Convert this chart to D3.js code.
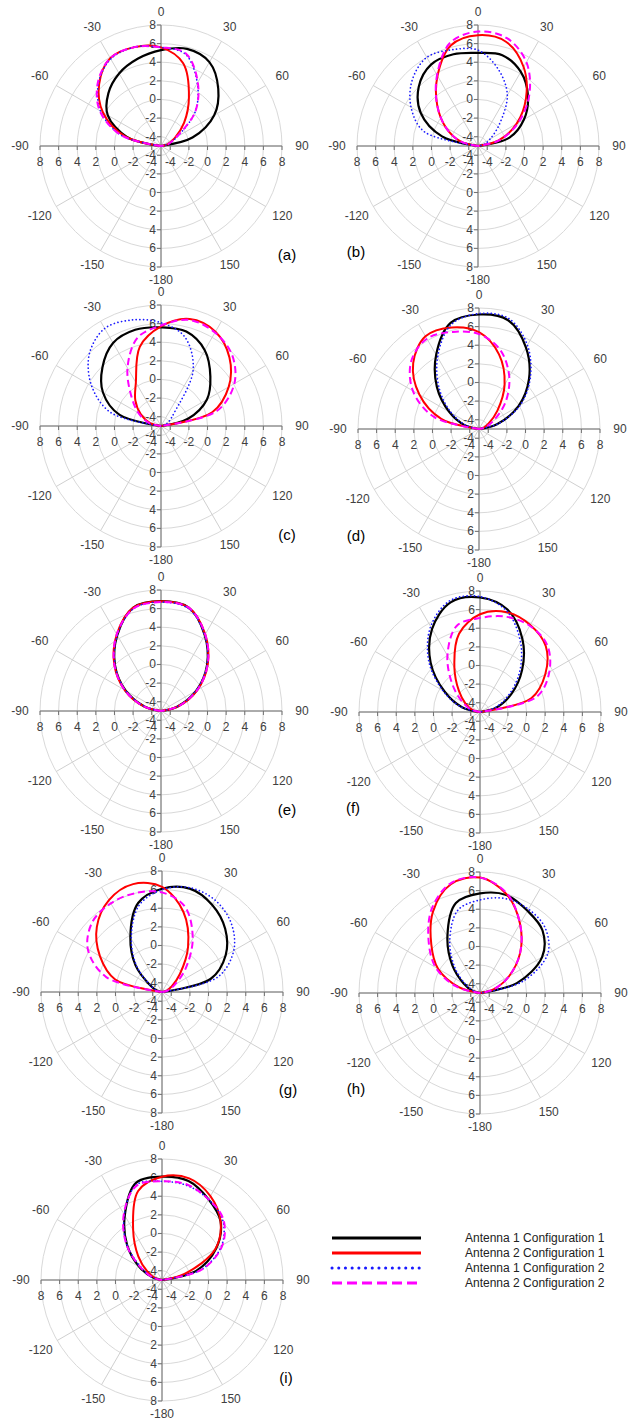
<!DOCTYPE html>
<html>
<head>
<meta charset="utf-8">
<script src="https://cdn.jsdelivr.net/npm/d3@7"></script>
<style>
  html, body { margin: 0; padding: 0; background: #fff; }
  svg { display: block; font-family: "Liberation Sans", Arial, sans-serif; }
</style>
</head>
<body>
<svg id="chart" width="636" height="1423"></svg>
<script>
// azimuth of each sample, degrees (0 = up, clockwise)
var angles = [-90, -75, -60, -45, -30, -15, 0, 15, 30, 45, 60, 75, 90];

var seriesNames = [
  "Antenna 1 Configuration 1",
  "Antenna 2 Configuration 1",
  "Antenna 1 Configuration 2",
  "Antenna 2 Configuration 2"
];

var panelLabels = ["(a)", "(b)", "(c)", "(d)", "(e)", "(f)", "(g)", "(h)", "(i)"];

var radialTicks = [-4, -2, 0, 2, 4, 6, 8];
var angleTicks = [0, 30, 60, 90, 120, 150, 180, -150, -120, -90, -60, -30];
var angleTickText = ["0", "30", "60", "90", "120", "150", "-180", "-150", "-120", "-90", "-60", "-30"];

// gain per panel: [ant1 cfg1, ant2 cfg1, ant1 cfg2, ant2 cfg2]
var gainA = [
  [-5, -1.2, 1.6, 3.0, 4.0, 4.7, 5.3, 5.8, 5.4, 3.7, 1.6, -1.5, -5],
  [-5, -1.0, 2.2, 4.4, 5.9, 6.0, 5.6, 4.2, 1.0, -1.5, -3.3, -4.3, -5],
  [-5, -0.6, 2.5, 4.5, 5.8, 6.0, 5.6, 5.2, 2.8, 0.2, -3.0, -4.2, -5],
  [-5, -0.6, 2.6, 4.6, 5.9, 6.0, 5.6, 5.3, 2.9, 0.2, -3.1, -4.2, -5]
];
var gainB = [
  [-5, -1.0, 2.1, 4.0, 5.1, 5.2, 5.0, 5.1, 4.2, 2.6, 0.7, -1.5, -5],
  [-5, -3.0, -1.0, 1.2, 3.7, 6.2, 6.9, 6.6, 4.8, 2.3, -0.2, -2.7, -5],
  [-5, 1.0, 3.3, 5.0, 6.0, 5.7, 5.3, 3.5, 1.3, -1.8, -3.5, -4.3, -5],
  [-5, -3.0, -1.0, 1.2, 3.8, 6.5, 7.3, 7.0, 5.4, 2.8, 0.0, -2.6, -5]
];
var gainC = [
  [-5, -0.4, 2.2, 3.9, 5.3, 5.7, 5.6, 5.5, 4.4, 2.5, 0.7, -2.0, -5],
  [-5, -3.8, -2.5, -1.1, 0.4, 3.8, 5.7, 6.9, 6.7, 5.4, 3.4, 0.7, -5],
  [-5, 0.6, 3.6, 5.9, 7.1, 6.8, 6.1, 4.9, 1.9, -3.0, -4.0, -4.5, -5],
  [-5, -3.6, -2.2, -0.5, 2.2, 4.8, 5.8, 6.8, 6.6, 5.8, 4.1, 1.2, -5]
];
var gainD = [
  [-5, -3.4, -1.3, 1.4, 4.2, 6.8, 7.3, 7.1, 5.1, 2.6, -0.1, -3.0, -5],
  [-5, -0.8, 2.4, 5.0, 6.5, 6.3, 5.4, 3.3, 0.5, -2.2, -3.8, -4.5, -5],
  [-5, -3.6, -1.6, 1.0, 3.9, 6.6, 7.4, 7.3, 5.4, 2.8, 0.1, -2.9, -5],
  [-5, 0.0, 3.2, 5.3, 6.2, 5.8, 5.2, 3.8, 1.5, -1.0, -3.2, -4.3, -5]
];
var gainE = [
  [-5, -3.2, -0.6, 2.0, 4.4, 6.5, 6.8, 6.5, 4.4, 2.0, -0.6, -3.2, -5],
  [-5, -3.1, -0.5, 2.1, 4.5, 6.5, 6.8, 6.5, 4.5, 2.1, -0.5, -3.1, -5],
  [-5, -3.2, -0.6, 2.0, 4.4, 6.4, 6.7, 6.4, 4.4, 2.0, -0.7, -3.2, -5],
  [-5, -3.1, -0.5, 2.1, 4.5, 6.4, 6.7, 6.5, 4.5, 2.1, -0.5, -3.1, -5]
];
var gainF = [
  [-5, -3.0, -0.6, 2.5, 5.3, 7.2, 7.3, 6.4, 4.1, 1.4, -1.1, -3.2, -5],
  [-5, -4.2, -3.2, -1.8, 0.5, 3.7, 5.5, 6.1, 5.8, 5.0, 3.1, 0.7, -5],
  [-5, -2.9, -0.4, 2.8, 5.6, 7.4, 7.4, 6.2, 3.7, 1.0, -1.5, -3.4, -5],
  [-5, -4.0, -2.8, -0.8, 2.0, 4.6, 5.1, 5.6, 5.7, 5.2, 3.6, 1.3, -5]
];
var gainG = [
  [-5, -4.4, -3.5, -1.0, 1.8, 4.9, 6.1, 6.5, 5.8, 4.6, 2.9, 0.4, -5],
  [-5, 0.2, 2.7, 4.9, 6.4, 7.0, 6.3, 3.9, 0.6, -2.3, -3.8, -4.5, -5],
  [-5, -4.4, -3.6, -1.2, 1.6, 4.6, 6.0, 6.6, 6.4, 5.5, 3.9, 1.2, -5],
  [-5, 1.2, 4.2, 5.6, 6.0, 6.0, 5.7, 4.5, 1.6, -1.4, -3.4, -4.3, -5]
];
var gainH = [
  [-5, -4.2, -3.0, -0.8, 2.0, 5.0, 5.7, 5.9, 5.2, 4.5, 2.7, -0.9, -5],
  [-5, -2.7, 0.2, 2.4, 5.1, 7.1, 7.4, 6.0, 3.6, 1.1, -1.4, -3.5, -5],
  [-5, -4.4, -3.3, -1.2, 1.5, 4.2, 5.0, 5.5, 5.4, 4.9, 3.4, -0.3, -5],
  [-5, -2.4, 0.5, 2.8, 5.4, 7.2, 7.4, 6.1, 3.6, 1.1, -1.4, -3.5, -5]
];
var gainI = [
  [-5, -4.0, -2.2, 0.3, 3.0, 5.8, 6.1, 6.0, 5.0, 3.9, 1.7, -1.2, -5],
  [-5, -4.3, -3.2, -1.4, 1.2, 4.9, 6.1, 6.3, 5.4, 3.9, 1.6, -2.5, -5],
  [-5, -4.0, -2.5, 0.3, 3.1, 5.6, 5.6, 5.5, 5.0, 4.2, 2.4, -0.6, -5],
  [-5, -4.0, -2.4, 0.4, 3.2, 5.5, 5.6, 5.6, 5.0, 4.3, 2.5, -0.5, -5]
];

var panelGains = [gainA, gainB, gainC, gainD, gainE, gainF, gainG, gainH, gainI];

// where each polar plot sits on the page
var layout = [
  {cx: 161, cy: 146, lx: 287, ly: 255},
  {cx: 478, cy: 146, lx: 356, ly: 252},
  {cx: 161, cy: 426, lx: 287, ly: 535},
  {cx: 479, cy: 429, lx: 356, ly: 536},
  {cx: 161, cy: 711, lx: 287, ly: 810},
  {cx: 480, cy: 712, lx: 353, ly: 808},
  {cx: 162, cy: 992, lx: 288, ly: 1090},
  {cx: 480, cy: 993, lx: 356, ly: 1089},
  {cx: 162, cy: 1280, lx: 286, ly: 1378}
];

var styles = [
  {stroke: "#000000", width: 2.2, dash: null, cap: "butt"},
  {stroke: "#ff0000", width: 2.0, dash: null, cap: "butt"},
  {stroke: "#1a1aff", width: 1.7, dash: "0.1,3.6", cap: "round"},
  {stroke: "#ff00ff", width: 2.0, dash: "7,4", cap: "butt"}
];

var R = 121;
var rScale = d3.scaleLinear().domain([-5, 8]).range([0, R]);
var toRad = function(deg) { return deg * Math.PI / 180; };

var svg = d3.select("#chart");
var labelColor = "#404040";

function drawPanel(i) {
  var p = layout[i];
  var g = svg.append("g").attr("transform", "translate(" + p.cx + "," + p.cy + ")");

  // rings
  g.selectAll("circle.ring")
    .data(radialTicks)
    .enter().append("circle")
    .attr("class", "ring")
    .attr("r", function(d) { return rScale(d); })
    .attr("fill", "none")
    .attr("stroke", "#d9d9d9")
    .attr("stroke-width", 1);

  // spokes
  g.selectAll("line.spoke")
    .data(angleTicks)
    .enter().append("line")
    .attr("class", "spoke")
    .attr("x1", 0).attr("y1", 0)
    .attr("x2", function(d) { return R * Math.sin(toRad(d)); })
    .attr("y2", function(d) { return -R * Math.cos(toRad(d)); })
    .attr("stroke", "#d0d0d0")
    .attr("stroke-width", 1);

  // axis cross
  g.append("line").attr("x1", -R).attr("x2", R).attr("y1", 0).attr("y2", 0)
    .attr("stroke", "#707070").attr("stroke-width", 1);
  g.append("line").attr("x1", 0).attr("x2", 0).attr("y1", -R).attr("y2", R)
    .attr("stroke", "#707070").attr("stroke-width", 1);

  var both = [];
  radialTicks.forEach(function(t) { both.push({t: t, s: -1}); both.push({t: t, s: 1}); });

  // tick marks
  g.selectAll("line.htick")
    .data(both)
    .enter().append("line")
    .attr("x1", function(d) { return d.s * rScale(d.t); })
    .attr("x2", function(d) { return d.s * rScale(d.t); })
    .attr("y1", 0).attr("y2", 4)
    .attr("stroke", "#707070");
  g.selectAll("line.vtick")
    .data(both)
    .enter().append("line")
    .attr("y1", function(d) { return d.s * rScale(d.t); })
    .attr("y2", function(d) { return d.s * rScale(d.t); })
    .attr("x1", -4).attr("x2", 0)
    .attr("stroke", "#707070");

  // radial tick labels
  g.selectAll("text.hlab")
    .data(both)
    .enter().append("text")
    .attr("x", function(d) { return d.s * rScale(d.t); })
    .attr("y", 20)
    .attr("text-anchor", "middle")
    .attr("font-size", 12)
    .attr("fill", labelColor)
    .text(function(d) { return d.t; });
  g.selectAll("text.vlab")
    .data(both)
    .enter().append("text")
    .attr("x", -5)
    .attr("y", function(d) { return d.s * rScale(d.t) + 4; })
    .attr("text-anchor", "end")
    .attr("font-size", 12)
    .attr("fill", labelColor)
    .text(function(d) { return d.t; });

  // angle labels
  g.selectAll("text.alab")
    .data(angleTicks)
    .enter().append("text")
    .attr("x", function(d) {
      var a = toRad(d);
      return (R + 13 + 7 * Math.abs(Math.sin(a))) * Math.sin(a);
    })
    .attr("y", function(d) {
      var a = toRad(d);
      return -(R + 13 + 7 * Math.abs(Math.sin(a))) * Math.cos(a) + 4;
    })
    .attr("text-anchor", "middle")
    .attr("font-size", 12)
    .attr("fill", labelColor)
    .text(function(d, k) { return angleTickText[k]; });

  // patterns
  var line = d3.lineRadial()
    .angle(function(d) { return toRad(d[0]); })
    .radius(function(d) { return rScale(d[1]); })
    .curve(d3.curveCatmullRom.alpha(0.5));

  panelGains[i].forEach(function(vals, k) {
    var pts = angles.map(function(a, j) { return [a, vals[j]]; });
    var st = styles[k];
    g.append("path")
      .attr("d", line(pts))
      .attr("fill", "none")
      .attr("stroke", st.stroke)
      .attr("stroke-width", st.width)
      .attr("stroke-linecap", st.cap)
      .attr("stroke-dasharray", st.dash);
  });

  svg.append("text")
    .attr("x", p.lx).attr("y", p.ly + 5)
    .attr("text-anchor", "middle")
    .attr("font-size", 15)
    .attr("fill", "#000")
    .text(panelLabels[i]);
}

for (var i = 0; i < layout.length; i++) drawPanel(i);

// legend
var legend = svg.append("g").attr("transform", "translate(332,1238)");
seriesNames.forEach(function(name, k) {
  var st = styles[k];
  var y = k * 15;
  legend.append("line")
    .attr("x1", 0).attr("x2", 89).attr("y1", y).attr("y2", y)
    .attr("stroke", st.stroke)
    .attr("stroke-width", 3)
    .attr("stroke-linecap", k === 2 ? "round" : "butt")
    .attr("stroke-dasharray", k === 2 ? "0.1,6.6" : (k === 3 ? "10,5" : null));
  legend.append("text")
    .attr("x", 133).attr("y", y + 4)
    .attr("font-size", 12)
    .attr("fill", "#222")
    .text(name);
});
</script>
</body>
</html>
